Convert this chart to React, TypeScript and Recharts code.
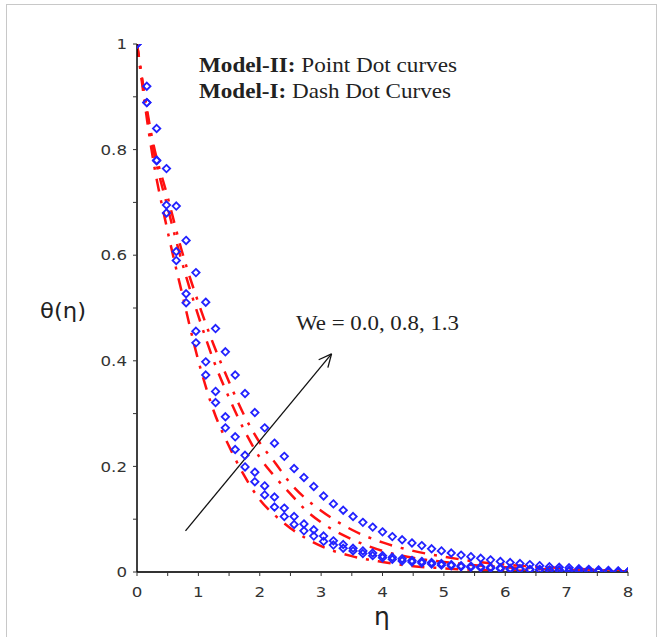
import React from 'react';
import { LineChart, Line, XAxis, YAxis, ReferenceLine } from 'recharts';

// Model-II (point dot curves) grid
const etaBlue = [0, 0.16, 0.32, 0.48, 0.64, 0.8, 0.96, 1.12, 1.28, 1.44, 1.6, 1.76, 1.92, 2.08, 2.24, 2.4, 2.56, 2.72, 2.88, 3.04, 3.2, 3.36, 3.52, 3.68, 3.84, 4, 4.16, 4.32, 4.48, 4.64, 4.8, 4.96, 5.12, 5.28, 5.44, 5.6, 5.76, 5.92, 6.08, 6.24, 6.4, 6.56, 6.72, 6.88, 7.04, 7.2, 7.36, 7.52, 7.68, 7.84, 8];
const model2We00 = [1, 0.889, 0.779, 0.68, 0.59, 0.51, 0.434, 0.373, 0.321, 0.273, 0.232, 0.199, 0.171, 0.146, 0.123, 0.105, 0.09, 0.078, 0.068, 0.058, 0.051, 0.045, 0.04, 0.035, 0.031, 0.027, 0.024, 0.021, 0.019, 0.017, 0.015, 0.013, 0.012, 0.01, 0.009, 0.008, 0.007, 0.006, 0.005, 0.005, 0.004, 0.004, 0.003, 0.003, 0.002, 0.002, 0.002, 0.001, 0.001, 0.001, 0];
const model2We08 = [1, 0.889, 0.78, 0.695, 0.607, 0.527, 0.456, 0.398, 0.342, 0.294, 0.256, 0.221, 0.189, 0.163, 0.142, 0.121, 0.105, 0.091, 0.08, 0.068, 0.059, 0.052, 0.045, 0.04, 0.036, 0.031, 0.028, 0.025, 0.022, 0.02, 0.018, 0.016, 0.014, 0.012, 0.011, 0.01, 0.009, 0.008, 0.007, 0.006, 0.005, 0.005, 0.004, 0.004, 0.003, 0.003, 0.002, 0.002, 0.001, 0.001, 0];
const model2We13 = [1, 0.92, 0.84, 0.764, 0.693, 0.628, 0.567, 0.511, 0.461, 0.417, 0.373, 0.338, 0.302, 0.273, 0.244, 0.219, 0.196, 0.179, 0.162, 0.144, 0.129, 0.117, 0.105, 0.094, 0.085, 0.076, 0.067, 0.061, 0.055, 0.05, 0.044, 0.04, 0.036, 0.032, 0.029, 0.026, 0.023, 0.02, 0.018, 0.016, 0.014, 0.012, 0.01, 0.009, 0.008, 0.006, 0.005, 0.004, 0.003, 0.002, 0];

// Model-I (dash dot curves) grid
const etaRed = [0, 0.25, 0.5, 0.75, 1, 1.25, 1.5, 1.75, 2, 2.25, 2.5, 2.75, 3, 3.5, 4, 4.5, 5, 5.5, 6, 6.5, 7, 7.5, 8];
const model1We00 = [1, 0.79, 0.645, 0.52, 0.4, 0.305, 0.238, 0.182, 0.137, 0.107, 0.083, 0.064, 0.049, 0.03, 0.019, 0.011, 0.007, 0.004, 0.003, 0.002, 0.001, 0.0005, 0];
const model1We08 = [1, 0.81, 0.69, 0.58, 0.485, 0.4, 0.33, 0.268, 0.217, 0.18, 0.148, 0.117, 0.094, 0.062, 0.04, 0.027, 0.019, 0.013, 0.009, 0.006, 0.004, 0.002, 0];
const model1We13 = [1, 0.82, 0.71, 0.6, 0.51, 0.43, 0.36, 0.296, 0.245, 0.207, 0.168, 0.139, 0.116, 0.08, 0.056, 0.04, 0.029, 0.02, 0.014, 0.01, 0.007, 0.004, 0.001];

const xTicks = [0, 0.5, 1, 1.5, 2, 2.5, 3, 3.5, 4, 4.5, 5, 5.5, 6, 6.5, 7, 7.5, 8];
const xTickLabels = ['0', '', '1', '', '2', '', '3', '', '4', '', '5', '', '6', '', '7', '', '8'];
const yTicks = [0, 0.1, 0.2, 0.3, 0.4, 0.5, 0.6, 0.7, 0.8, 0.9, 1];
const yTickLabels = ['0', '', '0.2', '', '0.4', '', '0.6', '', '0.8', '', '1'];

// arrow annotation (data coordinates)
const arrowStart = { x: 0.79, y: 0.078 };
const arrowEnd = { x: 3.17, y: 0.413 };
const arrowWing1 = { x: 2.96, y: 0.402 };
const arrowWing2 = { x: 3.11, y: 0.387 };

const rows = (xs: number[], ys: number[]) => xs.map((x, i) => ({ x, y: ys[i] }));

const BLUE = '#2222ff';
const RED = '#ff1010';
const TICK_FONT = 'DejaVu Sans';

const Diamond = (props: any) => {
  const { cx, cy, index } = props;
  if (cx == null || cy == null) return <g key={`e-${index}`} />;
  const h = 3.7;
  return (
    <path
      key={`d-${index}`}
      d={`M${cx},${cy - h}L${cx + h},${cy}L${cx},${cy + h}L${cx - h},${cy}Z`}
      fill="none"
      stroke={BLUE}
      strokeWidth={1.8}
    />
  );
};

const XTick = (props: any) => {
  const { x, y, index } = props;
  const label = xTickLabels[index] ?? '';
  return (
    <g transform={`translate(${x},${y})`}>
      <text transform="scale(1.15,1)" textAnchor="middle" dy="0.71em" fontSize={14.5} fontFamily={TICK_FONT} fill="#333">
        {label}
      </text>
    </g>
  );
};

const YTick = (props: any) => {
  const { x, y, index } = props;
  const label = yTickLabels[index] ?? '';
  return (
    <g transform={`translate(${x},${y})`}>
      <text transform="scale(1.15,1)" textAnchor="end" dy="0.355em" fontSize={14.5} fontFamily={TICK_FONT} fill="#333">
        {label}
      </text>
    </g>
  );
};

export default function App() {
  const redDash = '13 9 3 9';
  return (
    <div style={{ position: 'absolute', left: 0, top: 0, width: 662, height: 637, background: '#fff', overflow: 'hidden' }}>
      <div style={{ position: 'absolute', left: 6, top: 4, width: 649, height: 700, border: '1px solid #c8c8c8' }} />
      <div style={{ position: 'absolute', left: 0, top: 0 }}>
        <LineChart width={662} height={637} margin={{ top: 44, right: 34, bottom: 35, left: 77 }}>
          <XAxis
            type="number"
            dataKey="x"
            domain={[0, 8]}
            ticks={xTicks}
            interval={0}
            height={30}
            tickSize={4}
            tickMargin={11}
            axisLine={{ stroke: '#333', strokeWidth: 2 }}
            tickLine={{ stroke: '#333' }}
            tick={<XTick />}
            allowDataOverflow
          />
          <YAxis
            type="number"
            dataKey="y"
            domain={[0, 1]}
            ticks={yTicks}
            interval={0}
            width={60}
            tickSize={4}
            tickMargin={6}
            axisLine={{ stroke: '#000', strokeWidth: 1.5 }}
            tickLine={{ stroke: '#333' }}
            tick={<YTick />}
            allowDataOverflow
          />
          <Line data={rows(etaRed, model1We00)} dataKey="y" type="monotone" stroke={RED} strokeWidth={2.5} strokeDasharray={redDash} dot={false} activeDot={false} isAnimationActive={false} />
          <Line data={rows(etaRed, model1We08)} dataKey="y" type="monotone" stroke={RED} strokeWidth={2.5} strokeDasharray={redDash} dot={false} activeDot={false} isAnimationActive={false} />
          <Line data={rows(etaRed, model1We13)} dataKey="y" type="monotone" stroke={RED} strokeWidth={2.5} strokeDasharray={redDash} dot={false} activeDot={false} isAnimationActive={false} />
          <Line data={rows(etaBlue, model2We00)} dataKey="y" stroke="none" dot={Diamond} activeDot={false} isAnimationActive={false} />
          <Line data={rows(etaBlue, model2We08)} dataKey="y" stroke="none" dot={Diamond} activeDot={false} isAnimationActive={false} />
          <Line data={rows(etaBlue, model2We13)} dataKey="y" stroke="none" dot={Diamond} activeDot={false} isAnimationActive={false} />
          <ReferenceLine segment={[arrowStart, arrowEnd]} stroke="#111" strokeWidth={1.3} ifOverflow="visible" />
          <ReferenceLine segment={[arrowWing1, arrowEnd]} stroke="#111" strokeWidth={1.3} ifOverflow="visible" />
          <ReferenceLine segment={[arrowWing2, arrowEnd]} stroke="#111" strokeWidth={1.3} ifOverflow="visible" />
        </LineChart>
      </div>
      <svg width={662} height={637} style={{ position: 'absolute', left: 0, top: 0, pointerEvents: 'none' }}>
        <text x={199} y={72} fontFamily="Liberation Serif" fontSize={21} fill="#222" textLength={258} lengthAdjust="spacingAndGlyphs">
          <tspan fontWeight="bold">Model-II:</tspan> Point Dot curves
        </text>
        <text x={199} y={98} fontFamily="Liberation Serif" fontSize={21} fill="#222" textLength={252} lengthAdjust="spacingAndGlyphs">
          <tspan fontWeight="bold">Model-I:</tspan> Dash Dot Curves
        </text>
        <text x={296} y={330} fontFamily="Liberation Serif" fontSize={21} fill="#222" textLength={163} lengthAdjust="spacingAndGlyphs">
          We = 0.0, 0.8, 1.3
        </text>
        <text x={40} y={318} fontFamily="DejaVu Sans" fontSize={22} fill="#222" textLength={46} lengthAdjust="spacingAndGlyphs">
          θ(η)
        </text>
        <text x={382} y={625} textAnchor="middle" fontFamily="DejaVu Sans" fontSize={25} fill="#222">
          η
        </text>
      </svg>
    </div>
  );
}
